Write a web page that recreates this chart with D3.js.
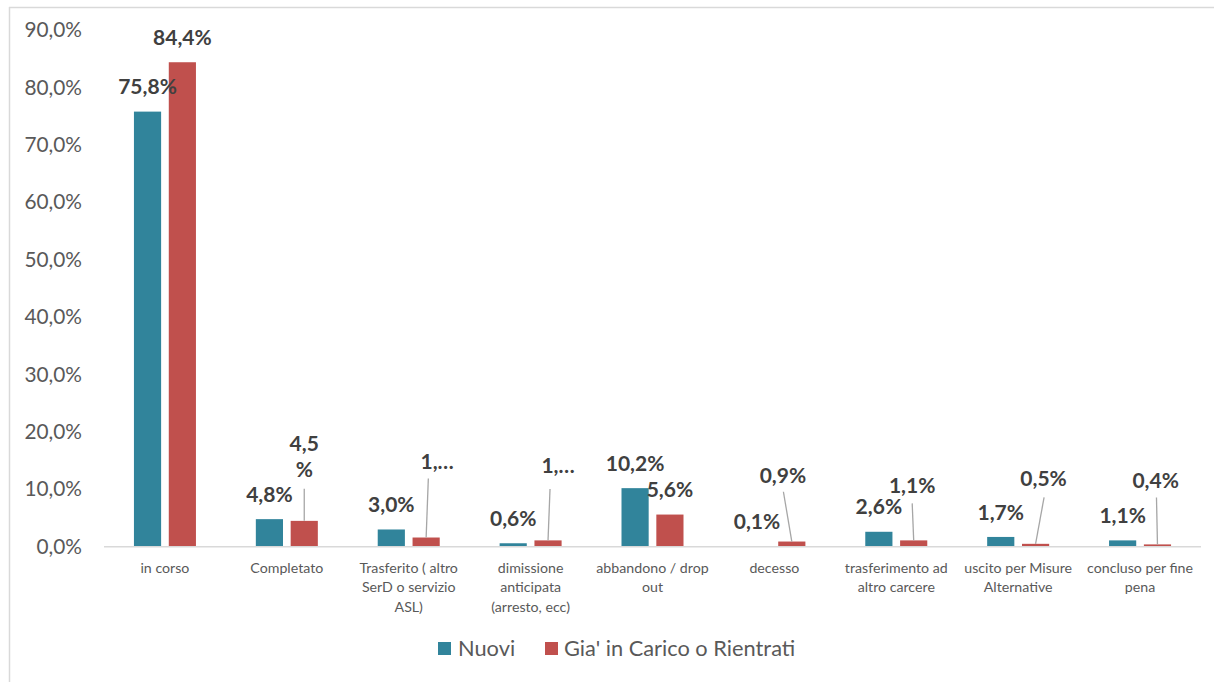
<!DOCTYPE html>
<html>
<head>
<meta charset="utf-8">
<script src="https://cdn.jsdelivr.net/npm/d3@7"></script>
<style>
  html, body { margin: 0; padding: 0; background: #fff; }
  svg { display: block; font-family: Lato, "Open Sans", sans-serif; }
</style>
</head>
<body>
<svg id="chart" width="1214" height="682"></svg>
<script>
// Esito del trattamento: percentuali per tipologia di utente
const categories = [
  ["in corso"],
  ["Completato"],
  ["Trasferito ( altro", "SerD o servizio", "ASL)"],
  ["dimissione", "anticipata", "(arresto, ecc)"],
  ["abbandono / drop", "out"],
  ["decesso"],
  ["trasferimento ad", "altro carcere"],
  ["uscito per Misure", "Alternative"],
  ["concluso per fine", "pena"]
];
const seriesNames = ["Nuovi", "Gia' in Carico o Rientrati"];
const nuovi  = [75.8, 4.8, 3.0, 0.6, 10.2, 0.1, 2.6, 1.7, 1.1];
const giaInCarico = [84.4, 4.5, 1.6, 1.1, 5.6, 0.9, 1.1, 0.5, 0.4];
const yTicks = [0, 10, 20, 30, 40, 50, 60, 70, 80, 90];

const colors = ["#31849B", "#C0504D"];

// Placement of the data labels for the second series (offsets from the bar top,
// optional leader line, and how the label text is shown).
const giaLabelLayout = [
  null,
  { dx: 0,    dy: -77,   leader: [0, -32],    mode: "wrap" },
  { dx: 11,   dy: -76,   leader: [2.2, -59],  mode: "trunc" },
  { dx: 10,   dy: -74.7, leader: [2, -51.4],  mode: "trunc" },
  null,
  { dx: -8.9, dy: -66,   leader: [-8.4, -49.8] },
  { dx: -1.5, dy: -55,   leader: [-1.5, -37] },
  { dx: 8,    dy: -65,   leader: [8.5, -46.5] },
  { dx: -1.8, dy: -64.2, leader: [-1, -47] }
];

const fmt = v => v.toFixed(1).replace(".", ",") + "%";

const svg = d3.select("#chart");

// chart area frame (top and left edges visible)
svg.append("line").attr("x1", 9).attr("x2", 1214).attr("y1", 7.5).attr("y2", 7.5)
  .attr("stroke", "#D9D9D9").attr("stroke-width", 1.5);
svg.append("line").attr("x1", 9.5).attr("x2", 9.5).attr("y1", 7).attr("y2", 682)
  .attr("stroke", "#D9D9D9").attr("stroke-width", 1.5);

const x0 = d3.scaleBand()
  .domain(d3.range(categories.length))
  .range([104, 1201])
  .padding(0);

const half = x0.bandwidth() / 2;
const x1 = d3.scaleBand()
  .domain([0, 1])
  .range([half - 31, half + 31])
  .paddingInner(0.22)
  .paddingOuter(0);

const y = d3.scaleLinear().domain([0, 90]).range([546.7, 30.1]);

// y tick labels
const yAxis = d3.axisLeft(y)
  .tickValues(yTicks)
  .tickFormat(fmt)
  .tickSize(0)
  .tickPadding(0);
const gy = svg.append("g").attr("transform", "translate(82,0)").call(yAxis);
gy.select(".domain").remove();
gy.selectAll("text")
  .attr("fill", "#595959")
  .style("font-family", "Lato, sans-serif")
  .style("font-size", "20.8px");

// bars
const groups = svg.append("g").selectAll("g")
  .data(categories.map((c, i) => i))
  .join("g")
  .attr("transform", i => `translate(${x0(i)},0)`);

const values = [nuovi, giaInCarico];
groups.selectAll("rect")
  .data(i => [0, 1].map(s => ({ s, i, v: values[s][i] })))
  .join("rect")
  .attr("x", d => x1(d.s))
  .attr("width", x1.bandwidth())
  .attr("y", d => y(d.v))
  .attr("height", d => y(0) - y(d.v))
  .attr("fill", d => colors[d.s]);

// x axis baseline
svg.append("line")
  .attr("x1", x0.range()[0]).attr("x2", x0.range()[1])
  .attr("y1", y(0)).attr("y2", y(0))
  .attr("stroke", "#D9D9D9").attr("stroke-width", 1.5);

// category labels
const catG = svg.append("g");
categories.forEach((lines, i) => {
  const t = catG.append("text")
    .attr("x", x0(i) + half)
    .attr("y", 573)
    .attr("text-anchor", "middle")
    .attr("fill", "#595959")
    .style("font-size", "14.2px");
  lines.forEach((ln, k) => {
    t.append("tspan").attr("x", x0(i) + half).attr("dy", k === 0 ? 0 : 19.3).text(ln);
  });
});

// data labels
const labG = svg.append("g");
const labelSize = 21;
const barCenter = (s, i) => x0(i) + x1(s) + x1.bandwidth() / 2;

function drawLabel(cx, cy, lines) {
  const t = labG.append("text")
    .attr("text-anchor", "middle")
    .attr("fill", "#404040")
    .style("font-weight", "bold")
    .style("font-size", labelSize + "px");
  lines.forEach((ln, k) => {
    t.append("tspan")
      .attr("x", cx)
      .attr("y", cy + k * 25.8 + labelSize * 0.36)
      .text(ln);
  });
}

nuovi.forEach((v, i) => {
  drawLabel(barCenter(0, i), y(v) - 25, [fmt(v)]);
});

giaInCarico.forEach((v, i) => {
  const bx = barCenter(1, i), by = y(v);
  const lay = giaLabelLayout[i];
  if (!lay) {
    drawLabel(bx, by - 25, [fmt(v)]);
    return;
  }
  let lines = [fmt(v)];
  if (lay.mode === "trunc") lines = [fmt(v).split(",")[0] + ",…"];
  if (lay.mode === "wrap") lines = [fmt(v).replace("%", ""), "%"];
  if (lay.leader) {
    labG.append("line")
      .attr("x1", bx + lay.leader[0]).attr("y1", by + lay.leader[1])
      .attr("x2", bx).attr("y2", by)
      .attr("stroke", "#A6A6A6").attr("stroke-width", 1.3);
  }
  drawLabel(bx + lay.dx, by + lay.dy, lines);
});

// legend
const legend = svg.append("g");
const legItems = [
  { x: 438, tx: 458 },
  { x: 545, tx: 564 }
];
seriesNames.forEach((name, s) => {
  legend.append("rect")
    .attr("x", legItems[s].x).attr("y", 642)
    .attr("width", 13).attr("height", 13)
    .attr("fill", colors[s]);
  legend.append("text")
    .attr("x", legItems[s].tx).attr("y", 655.5)
    .attr("fill", "#595959")
    .style("font-size", "21.8px")
    .text(name);
});
</script>
</body>
</html>
